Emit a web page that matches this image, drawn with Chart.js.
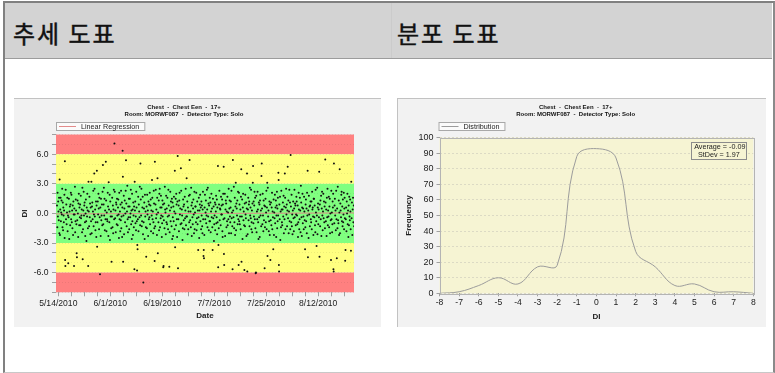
<!DOCTYPE html>
<html>
<head>
<meta charset="utf-8">
<script src="https://cdn.jsdelivr.net/npm/chart.js@4.4.1/dist/chart.umd.min.js"></script>
<style>
  html, body { margin: 0; padding: 0; background: #fff; }
  body { width: 775px; height: 373px; position: relative; overflow: hidden; }
  .frame { position: absolute; left: 3px; top: 1px; width: 768px; height: 369px;
    border-left: 2px solid #808080; border-top: 2px solid #808080;
    border-right: 2px solid #8a8a8a; border-bottom: 1px solid #c8c8c8; }
  .head { position: absolute; left: 5px; top: 3px; width: 767px; height: 55px;
    background: #d3d3d3; border-bottom: 1px solid #9c9c9c; }
  .head .sep { position: absolute; left: 386px; top: 0; width: 1px; height: 55px; background: #cbcbcb; }
  .head span { position: absolute; top: 12px; line-height: 24px; letter-spacing: 2px;
    font: 24px "Noto Sans CJK KR", sans-serif; color: #111; -webkit-text-stroke: 0.45px #111; }
  .panel { position: absolute; top: 98px; height: 228px; background: #f2f2f2;
    border-top: 1px solid #c2c2c2; }
  .panel canvas { display: block; }
</style>
</head>
<body>
<div class="frame"></div>
<div class="head">
  <div class="sep"></div>
  <span style="left: 8px;">추세 도표</span>
  <span style="left: 392px;">분포 도표</span>
</div>
<div class="panel" style="left: 14px; width: 367px;">
  <canvas id="trendChart" width="367" height="228"></canvas>
</div>
<div class="panel" style="left: 397px; width: 368px; border-left: 1px solid #c2c2c2;">
  <canvas id="distChart" width="368" height="228"></canvas>
</div>
<script>
'use strict';

// chart titles
var titleLines = ['Chest  -  Chest Een  -  17+', 'Room: MORWF087  -  Detector Type: Solo'];

// trend chart: days counted from 5/14/2010
var dateTickDays = [0, 18, 36, 54, 72, 90];
var dateTickLabels = ['5/14/2010', '6/1/2010', '6/19/2010', '7/7/2010', '7/25/2010', '8/12/2010'];
var bandEdges = [8, 6, 3, -3, -6, -8];
var bandColors = ['#ff8080', '#ffff80', '#80ff80', '#ffff80', '#ff8080'];
var regressionDI = [-0.05, 0.05];

// DI readings per day (one row per day, 5/14 .. 8/23)
var dailyDI = [
  [0.8, -1.4, 2.1, -0.3, 1.2, 0.2, -0.7, 1.6, -2.0, 3.45],
  [-2.2, 0.4, 1.6, -0.8, 0.1, 1.3, -0.1, 2.5, -1.4],
  [1.1, -1.7, 0.6, -0.2, -0.9, 0.3, 1.9, -2.5, 5.3, -4.72, -5.33],
  [2.4, -0.6, 0.9, -1.1, 0.1, 1.6, -1.8, -0.2, -5.06],
  [-0.4, 1.5, -2.6, 0.2, 0.7, -1.2, 0.9, 2.1, -0.6],
  [1.9, -0.9, 0.3, -1.5, 0.8, -2.2, 1.2, -0.1, -5.33],
  [0.5, -0.1, 2.7, -1.9, -0.8, 1.4, 0.3, -1.1, -4.05, -4.45],
  [-0.7, 1.3, 0.0, -2.4, 1.0, 2.0, -1.2, 0.6, -0.4],
  [0.9, -1.2, 1.8, -0.5, -0.2, 0.4, -1.9, 2.6, -4.65],
  [-1.6, 0.3, 2.2, -0.2, 0.8, 1.1, -0.9, -2.3, 0.0],
  [1.4, -0.8, -2.8, 0.6, -0.3, 2.0, 0.3, -1.5, -5.33, 3.2],
  [0.2, -1.3, 1.7, -0.4, 1.0, -2.1, 0.6, -0.8, 3.2],
  [-2.0, 0.7, 1.1, -0.6, 0.2, 2.3, -1.3, -0.1, 4.06],
  [2.5, -0.3, 0.4, -1.7, -0.9, 1.2, -2.4, 0.8, 4.33, -3.37],
  [-0.9, 1.2, -0.1, 2.0, 0.5, -1.6, 1.6, -0.4, -6.17],
  [0.6, -2.3, 1.5, -0.7, -0.2, 0.9, -1.2, 2.2, 4.9],
  [-1.1, 0.9, 2.6, -0.2, 1.5, -1.7, 0.3, -0.6, 5.25],
  [1.3, -1.8, 0.1, -0.6, -0.8, 2.1, 0.7, -2.3, 3.15],
  [0.4, -0.9, 1.9, -2.7, 1.2, -0.3, 0.2, -1.5, -4.89],
  [-0.3, 1.6, -1.4, 0.8, -2.0, 0.4, 2.4, -0.6, 7.1],
  [2.2, -0.5, 0.3, -1.9, 1.1, 0.9, -1.1, 1.5, -0.2],
  [-1.2, 0.6, 1.4, -0.1, -2.5, 2.1, -0.6, 0.2, -1.8],
  [0.9, -0.7, 2.3, -1.5, -0.3, 1.1, -2.4, 0.6, 6.35, 3.72, -4.89],
  [-0.2, 1.8, -2.1, 0.5, 1.3, -0.9, 0.0, 2.3, 5.4],
  [1.0, -1.3, 0.2, 2.8, -0.6, -1.9, 0.7, -0.4, 1.5],
  [-1.6, 0.7, 1.5, -0.4, 0.0, 2.4, -1.1, 0.3, -2.6],
  [2.0, -0.8, 0.4, -2.2, 1.1, -0.2, -1.4, 0.7, -5.66, 3.2],
  [0.3, 1.2, -1.0, -0.3, -1.7, 2.2, 0.6, -0.8, -5.8, -3.2, -3.64],
  [-0.6, 1.7, -1.8, 0.9, 0.2, -0.4, 2.7, -1.2, 5.07],
  [1.4, -0.2, 2.5, -1.3, -0.8, 0.6, 1.7, -2.1, -7.0],
  [-0.9, 0.5, 1.1, -2.6, 1.9, -0.3, 0.2, -1.4, -4.39],
  [0.7, -1.5, 1.9, -0.1, 0.3, -2.3, 1.2, -0.6, 0.9],
  [-0.4, 2.1, -1.1, 0.8, 1.4, -1.8, 0.3, -0.2, 3.38],
  [1.6, -0.6, 0.2, -2.0, -0.9, 2.3, 1.0, -1.5, -4.82, 5.25],
  [-1.3, 0.9, 2.4, -0.5, 0.4, -0.1, -2.2, 1.6, 3.56, -4.05],
  [0.1, -0.9, 1.3, -1.7, 2.0, 2.5, -1.4, 0.6, -0.5],
  [1.8, -0.2, 0.6, -2.4, -1.0, 1.3, -0.3, 0.9, -5.46, -5.33],
  [-0.7, 1.0, -1.5, 2.7, 0.4, 0.1, -2.1, 1.8, -0.9],
  [0.5, -1.1, 1.6, -0.3, -1.6, 2.4, 0.8, -0.2, -5.4],
  [-1.9, 0.3, 2.2, -0.8, 1.2, 0.6, -1.3, 1.5, -2.6],
  [1.1, -0.4, -2.3, 0.7, -0.8, 1.7, 0.2, -1.6, 4.33, -3.44],
  [0.0, 1.5, -1.2, 2.0, 0.9, -0.6, -2.4, 1.2, 5.82, -5.56],
  [-0.6, 0.8, -1.8, 1.3, 2.1, -0.1, 0.5, -1.1, 4.57],
  [2.3, -1.0, 0.4, -0.2, -2.7, -1.5, 1.4, 0.7, -0.7],
  [0.9, -1.6, 1.7, -0.5, 0.3, 2.5, -1.2, -0.3, 3.56],
  [-0.3, 1.2, -2.1, 0.6, -1.6, 0.2, 1.8, -0.9, 5.41],
  [1.9, -0.7, 0.2, -1.4, 2.6, 0.8, -2.3, 1.1, -0.4],
  [-1.1, 0.5, 1.4, -0.1, -2.0, 2.2, -1.6, 0.1, 0.7],
  [0.7, -0.9, 2.1, -1.7, -0.5, 1.2, -1.1, 0.3, -3.71],
  [-0.4, 1.6, -2.5, 0.3, 0.9, 1.9, -0.8, 0.6, -1.6],
  [1.2, -0.2, 0.8, -1.3, -2.0, 0.4, 2.2, -0.6, -4.32, -3.71, -4.55],
  [-2.2, 0.6, 1.9, -0.6, 0.1, 1.3, -1.0, -0.2, 2.4],
  [0.4, -1.4, 2.6, -0.3, 1.0, -1.7, 0.8, -0.8, 1.6],
  [-0.8, 1.1, -1.9, 0.2, 2.0, -0.4, 0.5, -1.4, -3.71],
  [1.5, -0.5, 0.7, -2.8, -1.1, -0.2, 1.1, -1.7, 0.9],
  [0.2, 1.8, -1.0, -0.4, 1.4, -2.1, 0.6, -0.9, 4.8, -5.46, -3.2],
  [-1.5, 0.9, 2.3, -0.7, 0.5, 0.4, -1.2, 1.7, -0.1],
  [0.8, -0.1, 1.4, -1.8, -2.4, 0.9, 2.0, -0.6, 4.73, -4.11, -5.23],
  [-0.5, 2.0, -2.3, 0.4, 1.3, 1.0, -1.4, 0.2, -0.8],
  [1.7, -1.2, 0.1, -0.6, 2.5, -2.0, 0.5, 1.3, -0.3],
  [-0.9, 0.6, 1.2, -2.0, 2.3, -0.5, 0.1, -1.3, -5.66, 5.41],
  [0.3, -0.4, 2.7, -1.5, -0.9, 1.6, -2.2, 0.7, 3.11],
  [-1.7, 1.0, 0.5, -0.2, 1.3, -1.1, 2.2, -0.6, -5.23],
  [2.1, -0.8, 0.9, -1.1, -0.3, 0.4, -1.6, 1.7, 4.47, -4.89],
  [-0.3, 1.4, -2.6, 0.6, 2.0, -0.7, 0.2, -1.2, -5.73],
  [1.0, -1.3, 1.9, -0.1, -0.5, 1.1, -2.3, 0.5, 4.06, -5.9],
  [-2.1, 0.4, 1.6, -0.7, 0.9, 1.2, -1.3, 2.6, -0.2],
  [0.6, -0.5, 2.4, -1.6, -0.9, 0.3, -1.9, 1.0, 3.11, 4.8],
  [-1.0, 1.2, -0.3, 0.8, 2.2, -0.6, 1.6, -1.5, -6.07, -6.0],
  [1.8, -1.9, 0.2, -0.6, 2.2, 0.4, -0.9, -2.6, 1.1],
  [-0.4, 0.9, -2.4, 1.3, 1.9, -0.2, 0.3, -1.3, 3.79, 5.07],
  [0.5, -1.1, 2.0, -0.2, -1.8, 1.3, -0.7, 0.8, -5.56],
  [-1.4, 0.7, 1.5, -0.9, 0.1, 2.3, -1.6, 0.6, 3.11, -4.32],
  [2.6, -0.3, 0.3, -1.8, -0.8, 1.2, -2.2, 0.9, -4.72],
  [-0.7, 1.1, -1.2, 0.6, 2.1, -1.6, 0.2, -0.4, -3.64],
  [1.4, -2.2, 0.1, -0.5, 1.9, -1.0, 0.6, 1.3, -2.4],
  [-0.2, 0.8, 2.2, -1.5, 0.5, -0.8, 1.6, -0.2, 4.13, 3.38, -5.23, -5.9],
  [0.9, -0.6, 1.7, -2.7, 0.2, -1.4, 2.3, 0.4, -0.9],
  [-1.2, 0.4, 1.1, -0.3, 1.8, -2.0, 0.7, -0.6, 4.06],
  [1.6, -1.6, 0.6, 2.5, -0.1, 0.9, -1.3, 0.3, 4.73],
  [-0.5, 1.3, -2.0, 0.2, 2.4, -0.8, 1.1, -1.6, 5.92],
  [0.7, -0.9, 1.9, -1.3, -0.1, -2.1, 0.3, 1.2, -0.5],
  [-1.8, 0.5, 2.4, -0.4, 1.0, 0.8, -1.2, -0.1, 1.7],
  [1.2, -0.2, -1.1, 0.8, -2.4, -0.9, 2.1, 0.4, -1.6],
  [-0.6, 1.6, 0.3, -1.9, 2.8, 1.1, -0.4, -2.3, 0.6],
  [2.0, -1.0, 0.5, -0.3, -1.6, 1.7, 0.2, -0.7, -3.64],
  [-1.4, 0.9, 1.4, -0.8, 0.5, -2.0, 2.1, -0.2, 4.33, -4.45],
  [0.3, -2.5, 1.8, -0.1, 0.7, -1.3, 0.8, 1.2, -0.6],
  [-0.9, 1.2, -1.6, 2.2, 0.4, 0.6, -0.3, -2.2, 1.5],
  [1.5, -0.4, 0.8, -1.2, -1.9, 2.4, 0.1, -0.8, -3.3],
  [-0.2, 2.6, -2.1, 0.6, 1.0, -1.1, 0.4, -0.4, 4.23, -4.39],
  [0.9, -1.3, 1.3, -0.6, 1.8, -2.3, 0.5, 2.2, -0.2],
  [-1.7, 0.2, 2.0, -0.5, 1.2, -0.9, 0.7, -1.5, 5.48],
  [1.1, -0.8, 0.4, -2.3, 1.6, -0.4, 2.5, -1.2, 0.3],
  [-0.3, 1.7, -1.4, 0.7, 1.5, -2.0, 0.0, -0.7, -4.72],
  [2.3, -0.6, 0.1, -1.9, -1.1, 1.2, 0.6, 2.0, -5.66, -5.9, 5.07],
  [-1.0, 0.8, 1.5, -0.2, 0.3, -1.7, 2.3, -0.6, -4.55],
  [0.5, -1.5, 2.7, -0.7, -1.0, 1.3, -2.2, 0.1, 4.47],
  [-2.0, 1.0, 0.3, -0.4, 1.9, 2.2, -0.8, 0.7, -1.3],
  [1.4, -0.9, -0.1, 2.1, -1.6, 0.5, 1.6, -0.5, -4.79, -3.71],
  [-0.6, 0.6, -1.8, 1.2, 0.0, 2.0, -1.1, 0.3, -2.4],
  [0.8, -1.2, 1.7, -0.3, -0.7, 1.4, 0.2, -1.6, -3.78, 3.21],
  [-0.5, 1.1, -2.2, 0.4, 1.6, -0.9, 0.8, -1.3]
];

// distribution chart
var distDI = [-8, -7, -6, -5, -4, -3, -2, -1, 0, 1, 2, 3, 4, 5, 6, 7, 8];
var distFreq = [0, 1, 5, 10, 6, 17, 18, 88, 93, 87, 27, 17, 5, 6, 1, 1, 0];
var distAverage = -0.09;
var distStDev = 1.97;

var fontFamily = '"Liberation Sans", Arial, sans-serif';
Chart.defaults.font.family = fontFamily;
Chart.defaults.color = '#222';

// legend drawn as a small framed box above the plot
var boxLegendPlugin = {
  id: 'boxLegend',
  afterDraw: function (chart, args, opts) {
    var ctx = chart.ctx;
    var ds = chart.data.datasets[opts.datasetIndex];
    ctx.save();
    ctx.font = '7.2px ' + fontFamily;
    var w = 25 + ctx.measureText(ds.label).width + 5;
    var x = chart.chartArea.left + opts.shift, y = opts.top, h = 8;
    ctx.fillStyle = '#fbfbfb';
    ctx.fillRect(x, y, w, h);
    ctx.strokeStyle = '#a8a8a8';
    ctx.lineWidth = 1;
    ctx.strokeRect(x + 0.5, y + 0.5, w, h);
    ctx.strokeStyle = ds.borderColor;
    ctx.beginPath();
    ctx.moveTo(x + 3, y + 4.5);
    ctx.lineTo(x + 20, y + 4.5);
    ctx.stroke();
    ctx.fillStyle = '#222';
    ctx.textBaseline = 'middle';
    ctx.fillText(ds.label, x + 25, y + 4.8);
    ctx.restore();
  }
};

// coloured DI bands behind the trend points
var bandPlugin = {
  id: 'bands',
  beforeDraw: function (chart) {
    var ctx = chart.ctx, area = chart.chartArea, yScale = chart.scales.y;
    ctx.save();
    for (var i = 0; i < bandColors.length; i++) {
      var top = yScale.getPixelForValue(bandEdges[i]);
      var bottom = yScale.getPixelForValue(bandEdges[i + 1]);
      ctx.fillStyle = bandColors[i];
      ctx.fillRect(area.left, top, area.right - area.left, bottom - top);
    }
    ctx.restore();
  }
};

// beige plot background + frame
var plotFramePlugin = {
  id: 'plotFrame',
  beforeDraw: function (chart) {
    var a = chart.chartArea, ctx = chart.ctx;
    ctx.save();
    ctx.fillStyle = '#f6f4d3';
    ctx.fillRect(a.left, a.top, a.right - a.left, a.bottom - a.top);
    ctx.restore();
  },
  afterDraw: function (chart) {
    var a = chart.chartArea, ctx = chart.ctx;
    ctx.save();
    ctx.strokeStyle = '#b4b4b4';
    ctx.lineWidth = 1;
    ctx.strokeRect(Math.round(a.left) + 0.5, Math.round(a.top) + 0.5,
      Math.round(a.right - a.left), Math.round(a.bottom - a.top));
    ctx.restore();
  }
};

var statsBoxPlugin = {
  id: 'statsBox',
  afterDraw: function (chart) {
    var a = chart.chartArea, ctx = chart.ctx;
    var w = 55, h = 17, x = a.right - 7 - w, y = a.top + 4;
    ctx.save();
    ctx.fillStyle = '#f6f4d3';
    ctx.fillRect(x, y, w, h);
    ctx.strokeStyle = '#8c8c8c';
    ctx.lineWidth = 1;
    ctx.strokeRect(Math.round(x) + 0.5, Math.round(y) + 0.5, w, h);
    ctx.fillStyle = '#222';
    ctx.font = '7.2px ' + fontFamily;
    ctx.textAlign = 'center';
    ctx.textBaseline = 'middle';
    ctx.fillText('Average = ' + distAverage.toFixed(2), x + w / 2 + 1, y + 4.8);
    ctx.fillText('StDev = ' + distStDev.toFixed(2), x + w / 2, y + 13.2);
    ctx.restore();
  }
};

var trendPoints = [];
dailyDI.forEach(function (values, day) {
  values.forEach(function (v, i) {
    trendPoints.push({x: day - 0.5 + (i + 0.5) / values.length, y: v});
  });
});

var trendMin = -0.8, trendMax = 102.4;

new Chart(document.getElementById('trendChart'), {
  type: 'scatter',
  data: {
    datasets: [
      {
        label: 'Linear Regression',
        type: 'line',
        data: [{x: trendMin, y: regressionDI[0]}, {x: trendMax, y: regressionDI[1]}],
        borderColor: '#e38b8b',
        borderWidth: 1,
        pointRadius: 0,
        order: 2
      },
      {
        label: 'DI',
        data: trendPoints,
        backgroundColor: '#111',
        pointRadius: 1,
        pointBorderWidth: 0,
        order: 1
      }
    ]
  },
  options: {
    responsive: false,
    animation: false,
    events: [],
    layout: {padding: {left: 0, right: 27, top: 0, bottom: 0}},
    plugins: {
      legend: {display: false},
      tooltip: {enabled: false},
      title: {
        display: true,
        text: titleLines,
        color: '#111',
        font: {size: 6, weight: 'bold', lineHeight: 1.17},
        padding: {top: 4.5, bottom: 17}
      },
      boxLegend: {datasetIndex: 0, top: 23, shift: 0}
    },
    scales: {
      x: {
        type: 'linear',
        min: trendMin,
        max: trendMax,
        afterBuildTicks: function (axis) {
          var ticks = [];
          for (var d = 0; d <= trendMax; d += 4.5) ticks.push({value: d});
          axis.ticks = ticks;
        },
        ticks: {
          autoSkip: false,
          maxRotation: 0,
          padding: 2,
          font: {size: 8.6},
          callback: function (v) {
            var k = dateTickDays.indexOf(v);
            return k >= 0 ? dateTickLabels[k] : '';
          }
        },
        grid: {drawOnChartArea: false, tickLength: 4, tickColor: '#a0a0a0'},
        border: {display: false},
        title: {display: true, text: 'Date', font: {size: 8, weight: 'bold'}, padding: {top: 0, bottom: 6.2}},
        afterFit: function (scale) { scale.height = 34.7; }
      },
      y: {
        min: -8,
        max: 8,
        afterBuildTicks: function (axis) {
          var ticks = [];
          for (var v = -8; v <= 8; v++) ticks.push({value: v});
          axis.ticks = ticks;
        },
        ticks: {
          autoSkip: false,
          padding: 3.5,
          font: {size: 8.6},
          callback: function (v) { return v % 3 === 0 ? v.toFixed(1) : ''; }
        },
        grid: {color: 'rgba(0,0,0,0.07)', tickLength: 4, tickColor: '#a0a0a0'},
        border: {display: false, dash: [1, 2]},
        title: {display: true, text: 'DI', font: {size: 8, weight: 'bold'}, padding: {top: 6, bottom: 0}},
        afterFit: function (scale) { scale.width = 42; }
      }
    }
  },
  plugins: [bandPlugin, boxLegendPlugin]
});

new Chart(document.getElementById('distChart'), {
  type: 'line',
  data: {
    datasets: [{
      label: 'Distribution',
      data: distDI.map(function (d, i) { return {x: d, y: distFreq[i]}; }),
      borderColor: '#9c9c9c',
      borderWidth: 1,
      pointRadius: 0,
      tension: 0.4,
      fill: false
    }]
  },
  options: {
    responsive: false,
    animation: false,
    events: [],
    layout: {padding: {left: 0, right: 12.7, top: 0, bottom: 0}},
    plugins: {
      legend: {display: false},
      tooltip: {enabled: false},
      title: {
        display: true,
        text: titleLines,
        color: '#111',
        font: {size: 6, weight: 'bold', lineHeight: 1.17},
        padding: {top: 4.5, bottom: 20.2}
      },
      boxLegend: {datasetIndex: 0, top: 23, shift: -1}
    },
    scales: {
      x: {
        type: 'linear',
        min: -8,
        max: 8,
        ticks: {stepSize: 1, autoSkip: false, maxRotation: 0, padding: 1, font: {size: 8.6}},
        grid: {drawOnChartArea: false, tickLength: 3, tickColor: '#a0a0a0'},
        border: {display: false},
        title: {display: true, text: 'DI', font: {size: 8, weight: 'bold'}, padding: {top: 0, bottom: 5.5}},
        afterFit: function (scale) { scale.height = 33.7; }
      },
      y: {
        min: 0,
        max: 100,
        ticks: {stepSize: 10, padding: 3, font: {size: 9}},
        grid: {color: '#dcdac4', tickLength: 3, tickColor: '#a0a0a0'},
        border: {display: false, dash: [2, 2]},
        title: {display: true, text: 'Frequency', font: {size: 8, weight: 'bold'}, padding: {top: 5.5, bottom: 0}},
        afterFit: function (scale) { scale.width = 41.5; }
      }
    }
  },
  plugins: [plotFramePlugin, boxLegendPlugin, statsBoxPlugin]
});
</script>
</body>
</html>
